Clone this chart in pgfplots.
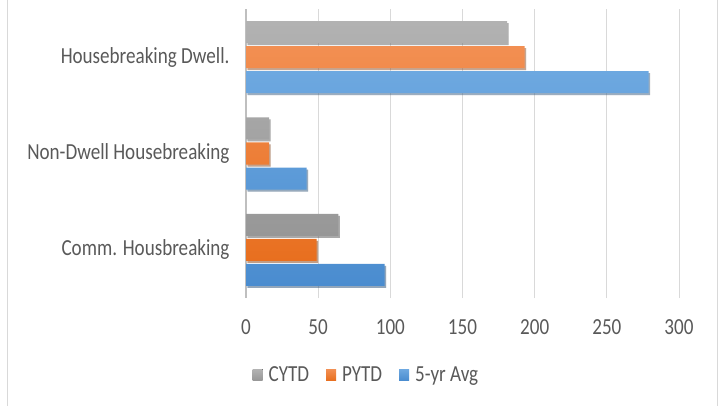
\documentclass[border=0pt]{standalone}
\usepackage{fontspec}
\setmainfont{Carlito}[FakeStretch=0.83]
\usepackage{pgfplots}
\pgfplotsset{compat=1.18}
\usetikzlibrary{shadows}
\definecolor{txt}{HTML}{595959}
\definecolor{gridc}{HTML}{D9D9D9}
\definecolor{axc}{HTML}{BFBFBF}
\definecolor{grayT}{HTML}{B2B2B2}
\definecolor{grayB}{HTML}{979797}
\definecolor{oraT}{HTML}{F28F52}
\definecolor{oraB}{HTML}{E86F1F}
\definecolor{bluT}{HTML}{6DA8E0}
\definecolor{bluB}{HTML}{4A8CCF}
\newcommand{\chfont}{\fontsize{23bp}{27bp}\selectfont}
\begin{document}
\begin{tikzpicture}
\path[use as bounding box] (0,0) rectangle (722bp,406bp);
\draw[gridc, line width=1.5bp] (7.5bp,0) -- (7.5bp,406bp);
\draw[gridc, line width=1.5bp] (717.5bp,0) -- (717.5bp,406bp);
\begin{axis}[
  at={(246bp,108bp)}, anchor=south west,
  scale only axis, width=433bp, height=289bp,
  xmin=0, xmax=300, ymin=-0.5, ymax=2.5,
  xtick={0,50,...,300},
  ytick={0,1,2},
  yticklabels={Comm. Housbreaking, Non-Dwell Housebreaking, Housebreaking Dwell.},
  xmajorgrids, major grid style={gridc, line width=1bp},
  axis line style={draw=none},
  major tick length=0,
  tick label style={font=\chfont, text=txt},
  /pgf/number format/assume math mode=true,
  xticklabel style={yshift=-18bp},
  yticklabel style={xshift=-13bp},
  xbar, bar width=22bp,
  legend style={at={(0.278,-0.266)}, anchor=center, draw=none, fill=none,
    legend columns=-1, font=\chfont, text=txt,
    /tikz/every odd column/.append style={column sep=4bp},
    /tikz/every even column/.append style={column sep=15bp}},
  legend image code/.code={\fill[#1, draw=none] (0bp,-5.5bp) rectangle (10bp,5.5bp);},
  clip=false,
]
\addlegendimage{draw=none, top color=grayT, bottom color=grayB}
\addlegendimage{draw=none, top color=oraT, bottom color=oraB}
\addlegendimage{draw=none, top color=bluT, bottom color=bluB}
\legend{CYTD, PYTD, 5-yr Avg}
\draw[axc, line width=1.2bp] (axis cs:0,-0.5) -- (axis cs:0,2.5);
\addplot[forget plot, draw=none, top color=grayT, bottom color=grayB, bar shift=25bp,
  drop shadow={shadow xshift=1.5bp, shadow yshift=-2bp, opacity=0.3, fill=black}]
  coordinates {(64,0) (16,1) (181,2)};
\addplot[forget plot, draw=none, top color=oraT, bottom color=oraB, bar shift=0bp,
  drop shadow={shadow xshift=1.5bp, shadow yshift=-2bp, opacity=0.3, fill=black}]
  coordinates {(49,0) (16,1) (193,2)};
\addplot[forget plot, draw=none, top color=bluT, bottom color=bluB, bar shift=-25bp,
  drop shadow={shadow xshift=1.5bp, shadow yshift=-2bp, opacity=0.3, fill=black}]
  coordinates {(96,0) (42,1) (279,2)};
\end{axis}
\end{tikzpicture}
\end{document}
